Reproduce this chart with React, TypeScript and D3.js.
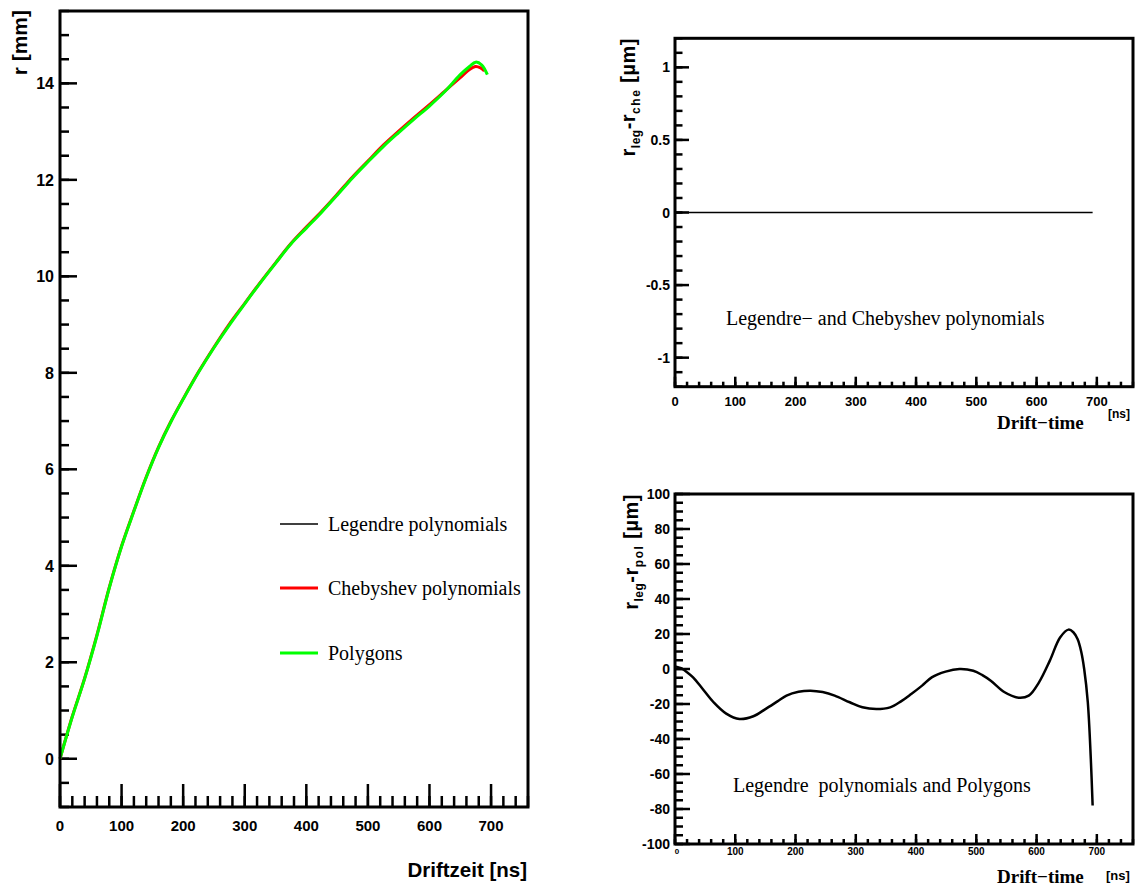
import React from 'react';
import * as d3 from 'd3';

// ---------- data ----------
const polyTime = [0, 20, 40, 60, 80, 100, 120, 140, 160, 180, 200, 225, 250, 275, 300, 325, 350, 375, 400, 425, 450, 475, 500, 525, 550, 575, 600, 625, 650, 665, 675, 685, 694];
const rPolygons = [0, 0.87, 1.66, 2.55, 3.54, 4.40, 5.13, 5.83, 6.45, 6.98, 7.45, 8.01, 8.52, 8.99, 9.43, 9.86, 10.27, 10.67, 11.00, 11.33, 11.68, 12.04, 12.37, 12.69, 12.98, 13.26, 13.53, 13.83, 14.18, 14.35, 14.44, 14.38, 14.18];
const chebTime = [0, 20, 40, 60, 80, 100, 120, 140, 160, 180, 200, 225, 250, 275, 300, 325, 350, 375, 400, 425, 450, 475, 500, 525, 550, 575, 600, 625, 650, 665, 675, 683, 689];
const rChebyshev = [0, 0.88, 1.67, 2.57, 3.55, 4.41, 5.14, 5.84, 6.46, 6.99, 7.46, 8.02, 8.53, 9.01, 9.44, 9.87, 10.28, 10.68, 11.02, 11.35, 11.70, 12.06, 12.39, 12.72, 13.01, 13.29, 13.56, 13.84, 14.12, 14.29, 14.35, 14.32, 14.26];
const rLegendre = rChebyshev;

const zeroTime = [0, 693];
const legMinusChe = [0, 0];

const diffTime = [0, 10, 20, 30, 45, 64, 85, 107, 130, 150, 170, 185, 205, 225, 245, 265, 290, 311, 334, 357, 375, 392, 410, 426, 449, 472, 495, 510, 524, 547, 570, 587, 604, 622, 639, 653, 661, 668, 674, 679, 685, 690, 693];
const legMinusPol = [1.5, 0.5, -1.8, -4.8, -11, -19, -25.5, -28.6, -27, -22.9, -18.5, -15.2, -13, -12.4, -13.2, -15.2, -19, -21.9, -22.9, -21.9, -18.5, -14.3, -9.5, -4.8, -1.5, 0, -1, -3.5, -6.7, -13.3, -16.4, -15.2, -7.6, 4.8, 18, 22.5, 21, 17.1, 10, 0, -19, -51.4, -78];

const leftXTicks = [0, 100, 200, 300, 400, 500, 600, 700];
const leftYTicks = [0, 2, 4, 6, 8, 10, 12, 14];
const rightXTicks = [0, 100, 200, 300, 400, 500, 600, 700];
const topYTicks = [-1, -0.5, 0, 0.5, 1];
const topYLabels = ['-1', '-0.5', '0', '0.5', '1'];
const botYTicks = [-100, -80, -60, -40, -20, 0, 20, 40, 60, 80, 100];

const legendItems = ['Legendre polynomials', 'Chebyshev polynomials', 'Polygons'];
const legendColors = ['#000000', '#ff0000', '#00ff00'];

const SANS = '"Liberation Sans", Arial, Helvetica, sans-serif';
const SERIF = '"Liberation Serif", "Times New Roman", serif';

type Frame = {
  x: d3.ScaleLinear<number, number>;
  y: d3.ScaleLinear<number, number>;
};

function rangeSteps(a: number, b: number, step: number) {
  const n = Math.round((b - a) / step);
  const out: number[] = [];
  for (let i = 0; i <= n; i++) out.push(+(a + i * step).toFixed(6));
  return out;
}

function Ticks({ f, xMinor, xMajor, yMinor, yMajor, xLen, xMinLen, yLen, yMinLen, sw }: any) {
  const [x0] = f.x.range();
  const [yb] = f.y.range();
  return (
    <g stroke="#000" strokeWidth={sw}>
      {xMinor.map((v: number, i: number) => (
        <line key={'xm' + i} x1={f.x(v)} x2={f.x(v)} y1={yb} y2={yb - xMinLen} />
      ))}
      {xMajor.map((v: number, i: number) => (
        <line key={'xM' + i} x1={f.x(v)} x2={f.x(v)} y1={yb} y2={yb - xLen} />
      ))}
      {yMinor.map((v: number, i: number) => (
        <line key={'ym' + i} x1={x0} x2={x0 + yMinLen} y1={f.y(v)} y2={f.y(v)} />
      ))}
      {yMajor.map((v: number, i: number) => (
        <line key={'yM' + i} x1={x0} x2={x0 + yLen} y1={f.y(v)} y2={f.y(v)} />
      ))}
    </g>
  );
}

function FrameRect({ f }: { f: Frame }) {
  const [x0, x1] = f.x.range();
  const [y0, y1] = f.y.range();
  return <rect x={x0} y={y1} width={x1 - x0} height={y0 - y1} fill="none" stroke="#000" strokeWidth={3} />;
}

export default function App() {
  const L: Frame = {
    x: d3.scaleLinear().domain([0, 760]).range([60, 528]),
    y: d3.scaleLinear().domain([-1, 15.5]).range([807, 11]),
  };
  const TR: Frame = {
    x: d3.scaleLinear().domain([0, 760]).range([675, 1133]),
    y: d3.scaleLinear().domain([-1.2, 1.2]).range([386.7, 38.3]),
  };
  const BR: Frame = {
    x: d3.scaleLinear().domain([0, 760]).range([675, 1133]),
    y: d3.scaleLinear().domain([-100, 100]).range([844, 494]),
  };

  const smooth = d3.curveCatmullRom.alpha(0.5);
  const mkLine = (f: Frame, xs: number[], curve: any = smooth) =>
    d3
      .line<number>()
      .x((_, i) => f.x(xs[i]))
      .y((d) => f.y(d))
      .curve(curve);

  const xMinorAll = rangeSteps(0, 760, 20);

  return (
    <svg
      width={1144}
      height={887}
      viewBox="0 0 1144 887"
      style={{ position: 'absolute', left: 0, top: 0, background: '#fff' }}
    >
      <rect x={0} y={0} width={1144} height={887} fill="#fff" />

      {/* ===== LEFT PANEL ===== */}
      <Ticks
        f={L}
        xMinor={xMinorAll}
        xMajor={leftXTicks}
        yMinor={rangeSteps(-1, 15.5, 0.5)}
        yMajor={leftYTicks}
        xLen={23}
        xMinLen={11}
        yLen={17}
        yMinLen={9}
        sw={2.5}
      />
      <path d={mkLine(L, chebTime)(rLegendre) || ''} fill="none" stroke="#000" strokeWidth={1.5} />
      <path d={mkLine(L, chebTime)(rChebyshev) || ''} fill="none" stroke="#ff0000" strokeWidth={3} />
      <path d={mkLine(L, polyTime)(rPolygons) || ''} fill="none" stroke="#00ff00" strokeWidth={3} />
      <FrameRect f={L} />
      <g fontFamily={SANS} fontWeight="bold" fontSize={16} fill="#000">
        {leftYTicks.map((v) => (
          <text key={'ly' + v} x={54} y={L.y(v)} dy="0.36em" textAnchor="end">
            {v}
          </text>
        ))}
        {leftXTicks.map((v) => (
          <text key={'lx' + v} x={L.x(v)} y={826} dy="0.36em" textAnchor="middle" fontSize={15}>
            {v}
          </text>
        ))}
      </g>
      <text
        transform="translate(27,10) rotate(-90)"
        textAnchor="end"
        fontFamily={SANS}
        fontWeight="bold"
        fontSize={21}
      >
        r [mm]
      </text>
      <text x={527} y={877} textAnchor="end" fontFamily={SANS} fontWeight="bold" fontSize={20.5}>
        Driftzeit [ns]
      </text>

      {/* legend */}
      {legendItems.map((name, i) => {
        const ly = [524, 588, 653][i];
        return (
          <g key={name}>
            <line
              x1={280}
              x2={318}
              y1={ly}
              y2={ly}
              stroke={legendColors[i]}
              strokeWidth={i === 0 ? 1.5 : 3}
            />
            <text x={328} y={ly + 7} fontFamily={SERIF} fontSize={20}>
              {name}
            </text>
          </g>
        );
      })}

      {/* ===== TOP RIGHT PANEL ===== */}
      <Ticks
        f={TR}
        xMinor={xMinorAll}
        xMajor={rightXTicks}
        yMinor={rangeSteps(-1.2, 1.2, 0.1)}
        yMajor={topYTicks}
        xLen={10}
        xMinLen={5}
        yLen={14}
        yMinLen={7.5}
        sw={2.5}
      />
      <path d={mkLine(TR, zeroTime, d3.curveLinear)(legMinusChe) || ''} fill="none" stroke="#000" strokeWidth={1.5} />
      <FrameRect f={TR} />
      <g fontFamily={SANS} fontWeight="bold" fontSize={14} fill="#000">
        {topYTicks.map((v, i) => (
          <text key={'ty' + v} x={670} y={TR.y(v)} dy="0.36em" textAnchor="end">
            {topYLabels[i]}
          </text>
        ))}
        {rightXTicks.map((v) => (
          <text key={'tx' + v} x={TR.x(v)} y={401} dy="0.36em" textAnchor="middle" fontSize={13}>
            {v}
          </text>
        ))}
      </g>
      <text
        transform="translate(635,38) rotate(-90)"
        textAnchor="end"
        fontFamily={SANS}
        fontWeight="bold"
        fontSize={20}
        letterSpacing={0.5}
      >
        r<tspan fontSize={12} dy={5}>leg</tspan>
        <tspan dy={-5}>-r</tspan>
        <tspan fontSize={12} dy={5} letterSpacing={1.5}>che</tspan>
        <tspan dy={-5}> [µm]</tspan>
      </text>
      <text x={726} y={325} fontFamily={SERIF} fontSize={20}>
        Legendre− and Chebyshev polynomials
      </text>
      <text x={997} y={429} fontFamily={SERIF} fontWeight="bold" fontSize={19}>
        Drift−time
      </text>
      <text x={1108} y={418} fontFamily={SANS} fontWeight="bold" fontSize={12}>
        [ns]
      </text>

      {/* ===== BOTTOM RIGHT PANEL ===== */}
      <Ticks
        f={BR}
        xMinor={xMinorAll}
        xMajor={rightXTicks}
        yMinor={rangeSteps(-100, 100, 5)}
        yMajor={botYTicks}
        xLen={10}
        xMinLen={5}
        yLen={15}
        yMinLen={8}
        sw={2.5}
      />
      <path d={mkLine(BR, diffTime)(legMinusPol) || ''} fill="none" stroke="#000" strokeWidth={2.5} />
      <FrameRect f={BR} />
      <g fontFamily={SANS} fontWeight="bold" fontSize={14} fill="#000">
        {botYTicks.map((v) => (
          <text key={'by' + v} x={670} y={BR.y(v)} dy="0.36em" textAnchor="end">
            {v}
          </text>
        ))}
        {rightXTicks.map((v) => (
          <text
            key={'bx' + v}
            x={v === 0 ? BR.x(v) + 2 : BR.x(v)}
            y={851}
            dy="0.36em"
            textAnchor="middle"
            fontSize={v === 0 ? 8 : 10}
          >
            {v}
          </text>
        ))}
      </g>
      <text
        transform="translate(638,494) rotate(-90)"
        textAnchor="end"
        fontFamily={SANS}
        fontWeight="bold"
        fontSize={20}
        letterSpacing={0.5}
      >
        r<tspan fontSize={12} dy={5}>leg</tspan>
        <tspan dy={-5}>-r</tspan>
        <tspan fontSize={12} dy={5} letterSpacing={1.5}>pol</tspan>
        <tspan dy={-5}> [µm]</tspan>
      </text>
      <text x={733} y={792} fontFamily={SERIF} fontSize={20} style={{ whiteSpace: 'pre' }}>
        {'Legendre  polynomials and Polygons'}
      </text>
      <text x={997} y={883} fontFamily={SERIF} fontWeight="bold" fontSize={19}>
        Drift−time
      </text>
      <text x={1106} y={880} fontFamily={SANS} fontWeight="bold" fontSize={13}>
        [ns]
      </text>
    </svg>
  );
}
